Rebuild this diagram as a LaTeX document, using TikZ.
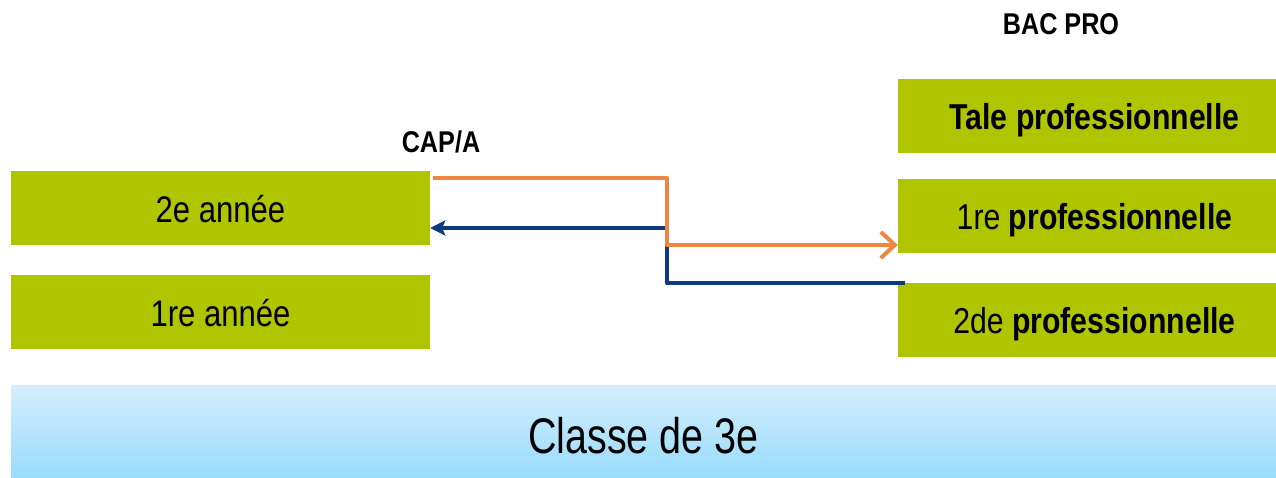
\documentclass[tikz,border=0pt]{standalone}
\usepackage{fontspec}
\setmainfont{Liberation Sans}[FakeStretch=0.84]
\usetikzlibrary{arrows.meta,calc}
\definecolor{boxgreen}{HTML}{AFC500}
\definecolor{lineorange}{HTML}{F08441}
\definecolor{lineblue}{HTML}{0D3A7E}
\definecolor{skytop}{HTML}{D4EEFC}
\definecolor{skybot}{HTML}{98DBFC}
\tikzset{
  gbox/.style={rectangle, fill=boxgreen, draw=none, minimum height=74pt, inner sep=0pt, text depth=0pt},
  leftbox/.style={gbox, minimum width=419pt, text height=30pt, font=\fontsize{37}{40}\selectfont},
  rightbox/.style={gbox, minimum width=393pt, text height=27.5pt, font=\fontsize{36}{38}\selectfont},
  heading/.style={font=\fontsize{30}{32}\selectfont\bfseries, inner sep=0pt, anchor=base},
  oline/.style={draw=lineorange, line width=4pt, line join=round},
  bline/.style={draw=lineblue, line width=4pt, line join=round},
}
\begin{document}
\begin{tikzpicture}[x=1pt,y=1pt]
\useasboundingbox (0,0) rectangle (1276,478);
% left column
\node[leftbox] (n2e) at (220.5,270) {2e année};
\node[leftbox] (n1e) at (220.5,166) {1re année};
% right column
\node[rightbox] (tale) at (1094.5,362) {\textbf{Tale professionnelle}};
\node[rightbox] (pro1) at (1094.5,262) {1re \textbf{professionnelle}};
\node[rightbox] (pro2) at (1094.5,158) {2de \textbf{professionnelle}};
% bottom
\node[rectangle, minimum width=1265pt, minimum height=92pt, inner sep=0pt,
      text height=44pt, text depth=0pt,
      top color=skytop, bottom color=skybot, draw=none,
      font=\fontsize{50}{52}\selectfont] (classe) at (643.5,46)
      {\scalebox{0.94}[1]{Classe de 3e}};
% headings
\node[heading] (cap) at (441,325) {CAP/A};
\node[heading] (bac) at (1061,443) {BAC PRO};
% connectors
\coordinate (mid) at (666.7,0);
\draw[bline, -{Stealth[length=15pt,width=15pt,inset=3pt]}]
  ([xshift=7pt]pro2.north west) -| (mid |- 0,250) -- ([yshift=-20pt]n2e.east);
\draw[oline, -{Straight Barb[length=14pt,width=26pt]}]
  ([xshift=3pt,yshift=-7pt]n2e.north east) -| (mid |- 0,233) -- ([yshift=-29pt]pro1.west);
\end{tikzpicture}
\end{document}
